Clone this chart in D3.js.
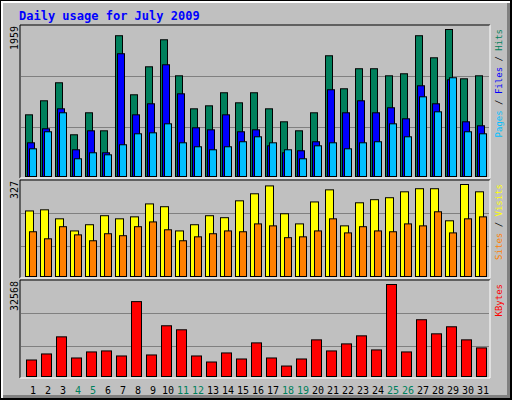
<!DOCTYPE html>
<html><head><meta charset="utf-8">
<script src="https://cdn.jsdelivr.net/npm/d3@7"></script>
<style>body{margin:0;background:#fff}</style>
</head><body>
<script>
const days = d3.range(1, 32);
const weekend = [4, 5, 11, 12, 18, 19, 25, 26];
const hits = [822,1009,1249,556,849,609,1876,1089,1462,1822,1342,902,942,1116,982,1116,902,729,609,849,1609,1169,1436,1436,1342,1369,1876,1582,1959,1302,1342];
const files = [449,636,902,356,609,316,1636,822,969,1489,1102,649,622,822,596,622,409,316,343,463,1156,849,1009,849,916,769,1209,969,1289,729,676];
const pages = [369,596,849,236,316,289,423,569,582,702,449,396,356,396,463,529,449,356,236,409,449,369,449,463,702,529,1062,862,1316,596,569];
const visits = [233,237,205,162,184,216,205,212,258,248,162,184,216,209,269,294,322,223,187,265,308,180,262,273,280,301,312,312,198,327,301];
const sites = [159,134,177,148,127,152,145,177,194,166,127,141,152,162,159,187,180,138,141,162,205,155,177,162,159,187,180,230,155,205,212];
const kbytes = [5843,7981,14038,6556,8694,9050,7268,26509,7625,17958,16532,7268,5131,8337,6200,11900,6556,3706,6200,12969,9050,11544,14395,9406,32568,8694,20095,15107,17601,12969,10119];

const svg = d3.select("body").append("svg").attr("width", 512).attr("height", 400)
  .style("font-family", "'DejaVu Sans Mono', monospace");

// frame
svg.append("rect").attr("x", 0).attr("y", 0).attr("width", 512).attr("height", 400).attr("fill", "#000");
svg.append("rect").attr("x", 1).attr("y", 1).attr("width", 509).attr("height", 397).attr("fill", "#fff");
svg.append("rect").attr("x", 3).attr("y", 3).attr("width", 507).attr("height", 395).attr("fill", "#808080");
svg.append("rect").attr("x", 3).attr("y", 3).attr("width", 504).attr("height", 392).attr("fill", "#c0c0c0");

svg.append("text").attr("x", 19).attr("y", 20).attr("fill", "#0000ff")
  .attr("font-size", 12).attr("font-weight", "bold").text("Daily usage for July 2009");

const x = d3.scaleBand().domain(days).range([20, 485]);

const panels = [
  { top: 25, bottom: 178, base: 176, peak: 29, max: 1959, grids: [76, 127],
    series: [[hits, "#00805c", 5, 7], [files, "#0000ff", 7, 7], [pages, "#00c0ff", 9, 7]],
    label: [["Pages", "#00c0ff"], [" / ", "#000"], ["Files", "#0000ff"], [" / ", "#000"], ["Hits", "#00805c"]] },
  { top: 180, bottom: 278, base: 276, peak: 184, max: 327, grids: [213, 246],
    series: [[visits, "#ffff00", 5, 8], [sites, "#ff8000", 9, 7]],
    label: [["Sites", "#ff8000"], [" / ", "#000"], ["Visits", "#ffff00"]] },
  { top: 280, bottom: 378, base: 376, peak: 284, max: 32568, grids: [313, 346],
    series: [[kbytes, "#ff0000", 6, 10]],
    label: [["KBytes", "#ff0000"]] }
];

panels.forEach(p => {
  const y = d3.scaleLinear().domain([0, p.max]).range([p.base, p.peak]);
  const g = svg.append("g");
  g.append("path").attr("d", `M20,${p.bottom}V${p.top}H490`).attr("stroke", "#000").attr("fill", "none");
  g.append("path").attr("d", `M490,${p.top}V${p.bottom}H20`).attr("stroke", "#fff").attr("fill", "none");
  g.selectAll("line.grid").data(p.grids).join("line")
    .attr("x1", 21).attr("x2", 489).attr("y1", d => d + 0.5).attr("y2", d => d + 0.5)
    .attr("stroke", "#808080");
  p.series.forEach(([vals, color, off, w]) => {
    g.selectAll(null).data(vals).join("rect")
      .attr("x", (d, i) => x(days[i]) + off + 0.5)
      .attr("y", d => y(d) + 0.5)
      .attr("width", w).attr("height", d => p.base - y(d))
      .attr("fill", color).attr("stroke", "#000");
  });
  g.append("text").attr("transform", `translate(18,${p.top + 1}) rotate(-90)`)
    .attr("text-anchor", "end").attr("font-size", 10).attr("fill", "#000").text(d3.format("d")(p.max));
  const t = g.append("text").attr("transform", `translate(502,${p.top + 4}) rotate(-90)`)
    .attr("text-anchor", "end").attr("font-size", 9);
  p.label.forEach(([s, c]) => t.append("tspan").attr("fill", c).attr("xml:space", "preserve").text(s));
});

svg.append("g").selectAll("text").data(days).join("text")
  .attr("x", d => x(d) + 13).attr("y", 394).attr("text-anchor", "middle")
  .attr("font-size", 10)
  .attr("fill", d => weekend.includes(d) ? "#00805c" : "#000")
  .text(d => d);
</script>
</body></html>
